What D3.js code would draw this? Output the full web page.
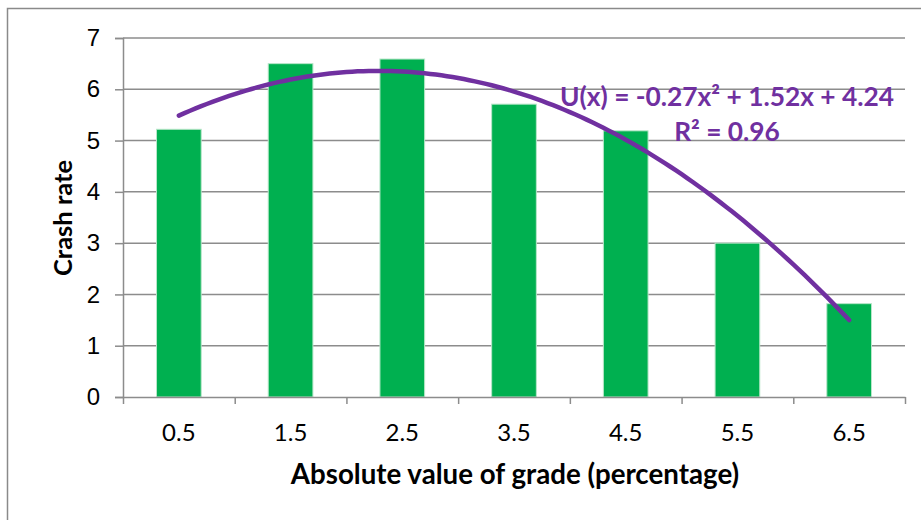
<!DOCTYPE html>
<html>
<head>
<meta charset="utf-8">
<script src="https://cdn.jsdelivr.net/npm/d3@7"></script>
<style>
  body { margin: 0; background: #fff; }
  svg { display: block; font-family: Lato, "Open Sans", sans-serif; }
</style>
</head>
<body>
<div id="chart"></div>
<script>
//chart size
const width = 921;
const height = 520;
const plot = { left: 123, right: 905, top: 38, bottom: 397 };

//data
const grades = ["0.5", "1.5", "2.5", "3.5", "4.5", "5.5", "6.5"];
const crashRates = [5.22, 6.5, 6.59, 5.71, 5.19, 3.0, 1.82];
const yTicks = [0, 1, 2, 3, 4, 5, 6, 7];
const equationLabel = "U(x) = -0.27x² + 1.52x + 4.24";
const r2Label = "R² = 0.96";

//least squares fit of a 2nd order polynomial, x = 1..n like excel does for a category axis
function polyFit(values) {
    let s = [0, 0, 0, 0, 0], t = [0, 0, 0];
    values.forEach(function (v, i) {
        const x = i + 1;
        for (let k = 0; k < 5; k++) s[k] += Math.pow(x, k);
        for (let k = 0; k < 3; k++) t[k] += v * Math.pow(x, k);
    });
    //matrix rows for c, b, a
    const m = [
        [s[0], s[1], s[2], t[0]],
        [s[1], s[2], s[3], t[1]],
        [s[2], s[3], s[4], t[2]]
    ];
    for (let i = 0; i < 3; i++) {
        for (let j = i + 1; j < 3; j++) {
            const f = m[j][i] / m[i][i];
            for (let k = i; k < 4; k++) m[j][k] -= f * m[i][k];
        }
    }
    const r = [0, 0, 0];
    for (let i = 2; i >= 0; i--) {
        let sum = m[i][3];
        for (let k = i + 1; k < 3; k++) sum -= m[i][k] * r[k];
        r[i] = sum / m[i][i];
    }
    return r; // [c, b, a]
}

const svg = d3.select("#chart").append("svg")
    .attr("width", width)
    .attr("height", height);

//outer chart border
svg.append("rect")
    .attr("x", 7.5).attr("y", 8.5)
    .attr("width", width).attr("height", height)
    .attr("fill", "none")
    .attr("stroke", "#8a8a8a")
    .attr("stroke-width", 1.5);

const x = d3.scaleBand()
    .domain(grades)
    .range([plot.left, plot.right])
    .paddingInner(0.6)
    .paddingOuter(0.3);

//linear scale for the category boundaries (tick marks) and the trend line
const xb = d3.scaleLinear()
    .domain([0, grades.length])
    .range([plot.left, plot.right]);

const y = d3.scaleLinear()
    .domain([0, 7])
    .range([plot.bottom, plot.top]);

//gridlines
svg.append("g")
    .selectAll("line")
    .data(yTicks.filter(function (d) { return d > 0; }))
    .enter()
    .append("line")
    .attr("x1", plot.left)
    .attr("x2", plot.right)
    .attr("y1", function (d) { return y(d); })
    .attr("y2", function (d) { return y(d); })
    .attr("stroke", "#8c8c8c")
    .attr("stroke-width", 1.5);

//y axis
const yAxis = svg.append("g")
    .attr("transform", "translate(" + plot.left + ",0)")
    .call(d3.axisLeft(y).tickValues(yTicks).tickFormat(d3.format("d")).tickSize(8).tickPadding(15));
yAxis.selectAll("line").attr("stroke", "#8c8c8c").attr("stroke-width", 1.5);
yAxis.select(".domain").attr("stroke", "#8c8c8c").attr("stroke-width", 1.5);
yAxis.selectAll("text")
    .style("font-size", "24px")
    .attr("fill", "#000");

//bars
svg.append("g")
    .selectAll("rect")
    .data(crashRates)
    .enter()
    .append("rect")
    .attr("x", function (d, i) { return x(grades[i]); })
    .attr("y", function (d) { return y(d); })
    .attr("width", x.bandwidth())
    .attr("height", function (d) { return y(0) - y(d); })
    .attr("fill", "#00b050")
    .attr("stroke", "#b8e6c9")
    .attr("stroke-width", 1);

//x axis with boundary ticks
const xAxis = svg.append("g")
    .attr("transform", "translate(0," + plot.bottom + ")")
    .call(d3.axisBottom(xb).ticks(grades.length).tickFormat("").tickSize(7).tickSizeOuter(0));
xAxis.selectAll("line").attr("stroke", "#8c8c8c").attr("stroke-width", 1.5);
xAxis.select(".domain").attr("stroke", "#8c8c8c").attr("stroke-width", 1.5);

//x category labels
svg.append("g")
    .selectAll("text")
    .data(grades)
    .enter()
    .append("text")
    .attr("x", function (d) { return x(d) + x.bandwidth() / 2; })
    .attr("y", 441)
    .attr("text-anchor", "middle")
    .style("font-size", "24px")
    .text(function (d) { return d; });

//polynomial trendline
const coef = polyFit(crashRates);
const curve = d3.range(1, grades.length + 0.001, 0.05).map(function (t) {
    return [t, coef[0] + coef[1] * t + coef[2] * t * t];
});
svg.append("path")
    .datum(curve)
    .attr("fill", "none")
    .attr("stroke", "#7030a0")
    .attr("stroke-width", 4.5)
    .attr("stroke-linecap", "round")
    .attr("d", d3.line()
        .x(function (d) { return xb(d[0] - 0.5); })
        .y(function (d) { return y(d[1]); }));

//trendline label
svg.append("text")
    .attr("x", 727)
    .attr("y", 106)
    .attr("text-anchor", "middle")
    .attr("fill", "#7030a0")
    .style("font-size", "26.3px")
    .style("font-weight", "bold")
    .text(equationLabel);

svg.append("text")
    .attr("x", 727)
    .attr("y", 141)
    .attr("text-anchor", "middle")
    .attr("fill", "#7030a0")
    .style("font-size", "26.3px")
    .style("font-weight", "bold")
    .text(r2Label);

//axis titles
svg.append("text")
    .attr("x", 515)
    .attr("y", 484)
    .attr("text-anchor", "middle")
    .style("font-size", "27.7px")
    .style("font-weight", "bold")
    .text("Absolute value of grade (percentage)");

svg.append("text")
    .attr("transform", "rotate(-90)")
    .attr("x", -218)
    .attr("y", 72)
    .attr("text-anchor", "middle")
    .style("font-size", "25.5px")
    .style("font-weight", "bold")
    .text("Crash rate");
</script>
</body>
</html>
